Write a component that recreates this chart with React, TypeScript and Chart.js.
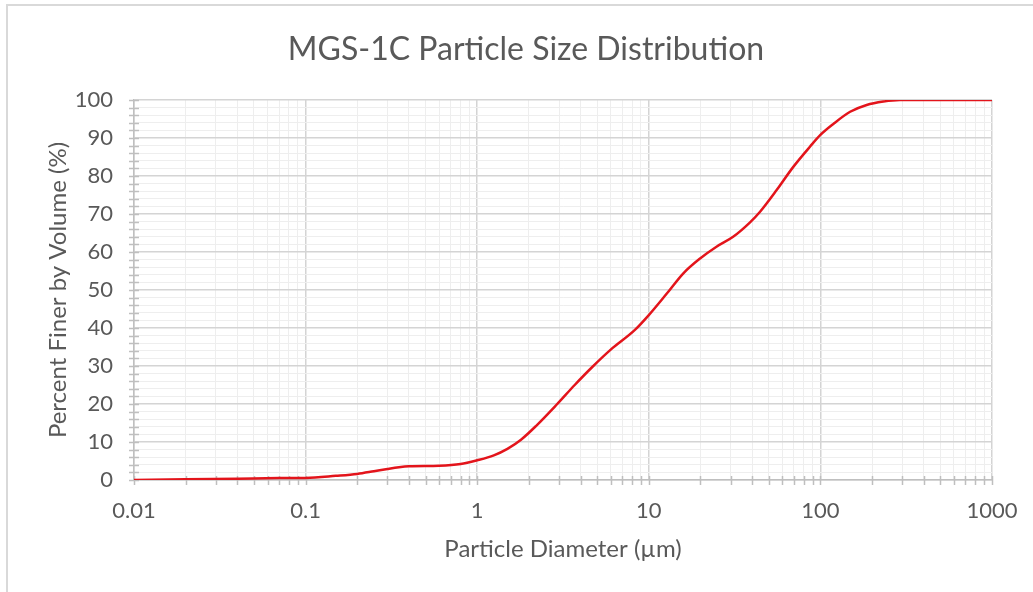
import React, { useEffect, useRef } from 'react';
import { Chart, registerables } from 'chart.js';

Chart.register(...registerables);

// Particle diameter (µm) and cumulative percent finer by volume (%)
const diameters = [
  0.01, 0.02, 0.04, 0.07, 0.1, 0.15, 0.2, 0.25, 0.3, 0.35, 0.4, 0.6, 0.8, 1.0,
  1.25, 1.5, 1.8, 2.2, 2.9, 3.7, 4.7, 6, 8.3, 10, 12.7, 15.9, 19.9, 24.8, 31, 38.9,
  44.5, 55.6, 69.5, 86.9, 100, 119, 149, 186, 233, 291, 1000,
];
const percentFiner = [
  0, 0.2, 0.35, 0.5, 0.55, 1.1, 1.6, 2.3, 2.9, 3.35, 3.6, 3.75, 4.2, 5.2,
  6.5, 8.2, 10.6, 14.2, 19.8, 25.0, 29.8, 34.3, 39.5, 43.4, 49, 54.4, 58.3, 61.4, 64.0, 67.8,
  70.6, 76.3, 82.4, 87.7, 90.8, 93.7, 96.9, 98.7, 99.6, 100, 100,
];
const xMajorLabels = [0.01, 0.1, 1, 10, 100, 1000];
const xMultipliers = [1, 2, 3, 4, 5, 6, 7, 8, 9];
const yMin = 0;
const yMax = 100;
const yMinorStep = 2;
const yMajorStep = 10;

const titleText = 'MGS-1C Particle Size Distribution';
const xTitle = 'Particle Diameter (µm)';
const yTitle = 'Percent Finer by Volume (%)';

const FONT = 'Lato, "Open Sans", sans-serif';
const TEXT = '#595959';
const MAJOR_GRID = '#d4d4d4';
const MINOR_GRID = '#eeeeee';
const AXIS = '#bfbfbf';

function buildXTicks(): number[] {
  const out: number[] = [];
  for (let i = 0; i < xMajorLabels.length; i++) {
    const base = xMajorLabels[i];
    if (i === xMajorLabels.length - 1) {
      out.push(base);
    } else {
      for (const m of xMultipliers) out.push(Number((base * m).toPrecision(3)));
    }
  }
  return out;
}

const isMajorX = (v: number) => xMajorLabels.some((m) => Math.abs(m - v) / m < 1e-6);

const tickMarksPlugin = {
  id: 'crossTicks',
  beforeDatasetsDraw(chart: any) {
    const { ctx, scales } = chart;
    const xs = scales.x;
    const ys = scales.y;
    const axisY = ys.getPixelForValue(yMin);
    const axisX = xs.getPixelForValue(xMajorLabels[0]);
    ctx.save();
    ctx.strokeStyle = AXIS;
    ctx.lineWidth = 1.5;
    ctx.beginPath();
    for (const t of xs.ticks) {
      const px = Math.round(xs.getPixelForValue(t.value)) + 0.5;
      ctx.moveTo(px, axisY - 4);
      ctx.lineTo(px, axisY + 5);
    }
    for (const t of ys.ticks) {
      const py = Math.round(ys.getPixelForValue(t.value)) + 0.5;
      ctx.moveTo(axisX - 5, py);
      ctx.lineTo(axisX + 5, py);
    }
    ctx.stroke();
    ctx.restore();
  },
};

export default function App() {
  const ref = useRef<HTMLCanvasElement>(null);

  useEffect(() => {
    if (!ref.current) return;
    const xTicks = buildXTicks();
    const chart = new Chart(ref.current, {
      type: 'line',
      data: {
        datasets: [
          {
            data: diameters.map((d, i) => ({ x: d, y: percentFiner[i] })),
            borderColor: '#e3141b',
            borderWidth: 2.5,
            pointRadius: 0,
            cubicInterpolationMode: 'monotone',
            fill: false,
          },
        ],
      },
      options: {
        responsive: false,
        animation: false,
        layout: { padding: { left: 40, right: 21, top: 16, bottom: 25 } },
        plugins: {
          legend: { display: false },
          tooltip: { enabled: false },
          title: {
            display: true,
            text: titleText,
            color: TEXT,
            font: { family: FONT, size: 32, weight: 'normal', lineHeight: 1.2 },
            padding: { top: 14, bottom: 31.6 },
          },
        },
        scales: {
          x: {
            type: 'logarithmic',
            min: 0.01,
            max: 1000,
            afterBuildTicks: (scale: any) => {
              scale.ticks = xTicks.map((v) => ({ value: v, major: isMajorX(v) }));
            },
            afterFit: (scale: any) => {
              scale.height = 592 - 25 - 480;
              scale.paddingLeft = 0;
              scale.paddingRight = 41;
            },
            ticks: {
              autoSkip: false,
              maxRotation: 0,
              minRotation: 0,
              padding: 18,
              color: TEXT,
              font: { family: FONT, size: 22 },
              callback: (v: any) => (isMajorX(Number(v)) ? String(Number(v)) : ''),
            },
            grid: {
              drawTicks: false,
              color: (c: any) => (c.tick && isMajorX(c.tick.value) ? MAJOR_GRID : MINOR_GRID),
              lineWidth: (c: any) => (c.tick && isMajorX(c.tick.value) ? 1.5 : 1),
            },
            border: { color: AXIS, width: 1.5 },
            title: {
              display: true,
              text: xTitle,
              color: TEXT,
              font: { family: FONT, size: 24, lineHeight: 1.2 },
              padding: { top: 0, bottom: 3.6 },
            },
          },
          y: {
            type: 'linear',
            min: yMin,
            max: yMax,
            afterFit: (scale: any) => {
              scale.width = 134 - 40;
            },
            ticks: {
              stepSize: yMinorStep,
              autoSkip: false,
              padding: 21,
              color: TEXT,
              font: { family: FONT, size: 22 },
              callback: (v: any) => (Number(v) % yMajorStep === 0 ? String(v) : ''),
            },
            grid: {
              drawTicks: false,
              color: (c: any) => (c.tick && c.tick.value % yMajorStep === 0 ? MAJOR_GRID : MINOR_GRID),
              lineWidth: (c: any) => (c.tick && c.tick.value % yMajorStep === 0 ? 1.5 : 1),
            },
            border: { color: AXIS, width: 1.5 },
            title: {
              display: true,
              text: yTitle,
              color: TEXT,
              font: { family: FONT, size: 24, lineHeight: 1.2 },
              padding: { top: 3.6, bottom: 0 },
            },
          },
        },
      },
      plugins: [tickMarksPlugin],
    });
    return () => chart.destroy();
  }, []);

  return (
    <div style={{ position: 'fixed', left: 0, top: 0, width: 1033, height: 592, background: '#fff', overflow: 'hidden' }}>
      <div
        style={{
          position: 'absolute',
          left: 6,
          top: 4,
          width: 1100,
          height: 700,
          border: '2px solid #d9d9d9',
          boxSizing: 'border-box',
        }}
      />
      <canvas ref={ref} width={1033} height={592} style={{ position: 'absolute', left: 0, top: 0 }} />
    </div>
  );
}
